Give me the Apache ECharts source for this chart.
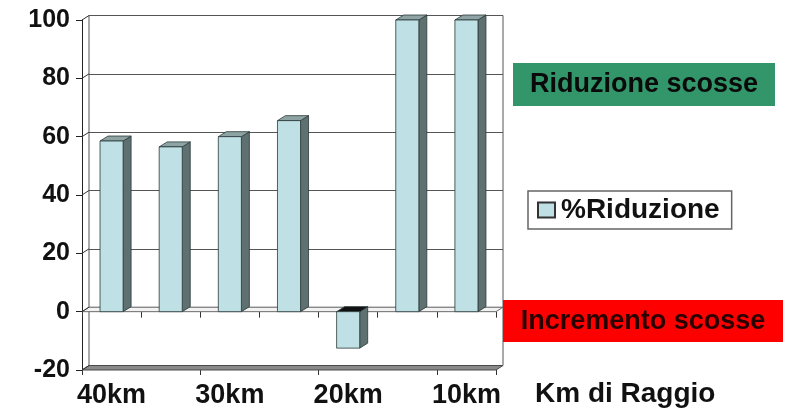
<!DOCTYPE html>
<html>
<head>
<meta charset="utf-8">
<script src="https://cdn.jsdelivr.net/npm/echarts@6/dist/echarts.min.js"></script>
<style>html,body{margin:0;padding:0;background:#fff}#c{width:789px;height:411px}</style>
</head>
<body>
<div id="c"></div>
<script>
const categories = ['40km', '35km', '30km', '25km', '20km', '15km', '10km'];
const reduction = [58.5, 56.5, 60, 65.5, -12.5, 100, 100];
const yTicks = [-20, 0, 20, 40, 60, 80, 100];
const seriesName = '%Riduzione';
const axisTitle = 'Km di Raggio';
const noteUp = 'Riduzione scosse';
const noteDown = 'Incremento scosse';

const FONT = '"Liberation Sans", Arial, sans-serif';
const DX = 7, DY = -4.5;      // depth offset of the back wall
const BDX = 8, BDY = -5;      // depth offset of bars
const FRONT = '#bfe1e6', SIDE = '#5f7070', TOP = '#8ea3a3', EDGE = '#2b3838';

const chart = echarts.init(document.getElementById('c'), null, {renderer: 'canvas'});

function wallItem(params, api) {
  const v = api.value(1);
  const cs = params.coordSys;
  const y = api.coord([0, v])[1];
  const xl = cs.x, xr = cs.x + cs.width;
  const children = [];
  if (v === yTicks[0]) {
    children.push({type: 'polygon', shape: {points: [[xl, y], [xr, y], [xr + DX, y + DY], [xl + DX, y + DY]]},
      style: {fill: '#8a8a8a', stroke: '#4a4a4a', lineWidth: 1}});
  }
  if (v === 0) {
    children.push({type: 'polygon', shape: {points: [[xl, y], [xr, y], [xr + DX, y + DY], [xl + DX, y + DY]]},
      style: {fill: '#f2f2f2', stroke: '#6a6a6a', lineWidth: 1}});
  }
  children.push({type: 'line', shape: {x1: xl, y1: y, x2: xl + DX, y2: y + DY},
    style: {stroke: '#333', lineWidth: 1}});
  return {type: 'group', children: children};
}

function barItem(params, api) {
  const idx = api.value(0), v = api.value(1);
  const top = api.coord([idx, Math.max(v, 0)]);
  const bot = api.coord([idx, Math.min(v, 0)]);
  const w = api.size([1, 0])[0] * 0.39;
  const x0 = top[0] - w / 2, x1 = top[0] + w / 2;
  const yT = top[1], yB = bot[1];
  return {type: 'group', children: [
    {type: 'polygon', shape: {points: [[x1, yT], [x1 + BDX, yT + BDY], [x1 + BDX, yB + BDY], [x1, yB]]},
      style: {fill: SIDE, stroke: EDGE, lineWidth: 0.8}},
    {type: 'polygon', shape: {points: [[x0, yT], [x0 + BDX, yT + BDY], [x1 + BDX, yT + BDY], [x1, yT]]},
      style: {fill: v < 0 ? '#111' : TOP, stroke: EDGE, lineWidth: 0.8}},
    {type: 'rect', shape: {x: x0, y: yT, width: w, height: yB - yT},
      style: {fill: FRONT, stroke: EDGE, lineWidth: 0.8}}
  ]};
}

const option = {
  animation: false,
  backgroundColor: '#fff',
  grid: [
    {left: 82, right: 293, top: 20, bottom: 41},
    {left: 82 + DX, right: 293 - DX, top: 20 + DY, bottom: 41 - DY,
      show: true, backgroundColor: '#fff', borderColor: '#555', borderWidth: 1}
  ],
  xAxis: [
    {type: 'category', gridIndex: 0, data: categories, position: 'bottom',
      axisLine: {show: false, onZero: false},
      axisTick: {show: true, length: 5, lineStyle: {color: '#333'}},
      axisLabel: {interval: 1, margin: 12, fontSize: 27, fontWeight: 'bold', color: '#111', fontFamily: FONT},
      splitLine: {show: false}},
    {type: 'category', gridIndex: 0, data: categories, position: 'top',
      axisLine: {show: false, onZero: true},
      axisTick: {show: true, inside: true, length: 6, lineStyle: {color: '#333'}},
      axisLabel: {show: false}, splitLine: {show: false}},
    {type: 'category', gridIndex: 1, data: categories, show: false}
  ],
  yAxis: [
    {type: 'value', gridIndex: 0, min: -20, max: 100, interval: 20,
      axisLine: {show: true, lineStyle: {color: '#222', width: 1}},
      axisTick: {show: true, length: 6, lineStyle: {color: '#222'}},
      axisLabel: {margin: 12, fontSize: 25, fontWeight: 'bold', color: '#111', fontFamily: FONT},
      splitLine: {show: false}},
    {type: 'value', gridIndex: 1, min: -20, max: 100, interval: 20,
      axisLine: {show: false}, axisTick: {show: false}, axisLabel: {show: false},
      splitLine: {show: true, lineStyle: {color: '#555', width: 1}}}
  ],
  legend: {
    data: [{name: seriesName, icon: 'rect'}],
    left: 528, top: 191,
    orient: 'vertical',
    backgroundColor: '#fff', borderColor: '#666', borderWidth: 1.5,
    padding: [5, 12, 5, 9],
    itemWidth: 17, itemHeight: 15, itemGap: 9,
    selectedMode: false,
    textStyle: {fontSize: 28, fontWeight: 'bold', color: '#111', fontFamily: FONT, padding: [0, 0, 0, 1]}
  },
  graphic: [
    {type: 'group', left: 513, top: 63, children: [
      {type: 'rect', shape: {x: 0, y: 0, width: 262, height: 43}, style: {fill: '#33956a'}},
      {type: 'text', x: 131, y: 22, style: {text: noteUp, fill: '#0a0a0a', font: 'bold 27px ' + FONT, align: 'center', verticalAlign: 'middle'}}
    ]},
    {type: 'group', left: 503, top: 300, children: [
      {type: 'rect', shape: {x: 0, y: 0, width: 280, height: 42}, style: {fill: '#ff0000'}},
      {type: 'text', x: 140, y: 22, style: {text: noteDown, fill: '#2a0000', font: 'bold 27px ' + FONT, align: 'center', verticalAlign: 'middle'}}
    ]},
    {type: 'text', left: 535, top: 380, style: {text: axisTitle, fill: '#111', font: 'bold 28px ' + FONT}}
  ],
  series: [
    {type: 'custom', name: 'walls', xAxisIndex: 0, yAxisIndex: 0, silent: true, clip: false,
      data: yTicks.map(v => [0, v]), renderItem: wallItem, z: 1},
    {type: 'custom', name: seriesName, xAxisIndex: 0, yAxisIndex: 0, clip: false,
      itemStyle: {color: FRONT, borderColor: '#333', borderWidth: 1},
      data: reduction.map((v, i) => [i, v]), renderItem: barItem, z: 3}
  ]
};
chart.setOption(option);
</script>
</body>
</html>
